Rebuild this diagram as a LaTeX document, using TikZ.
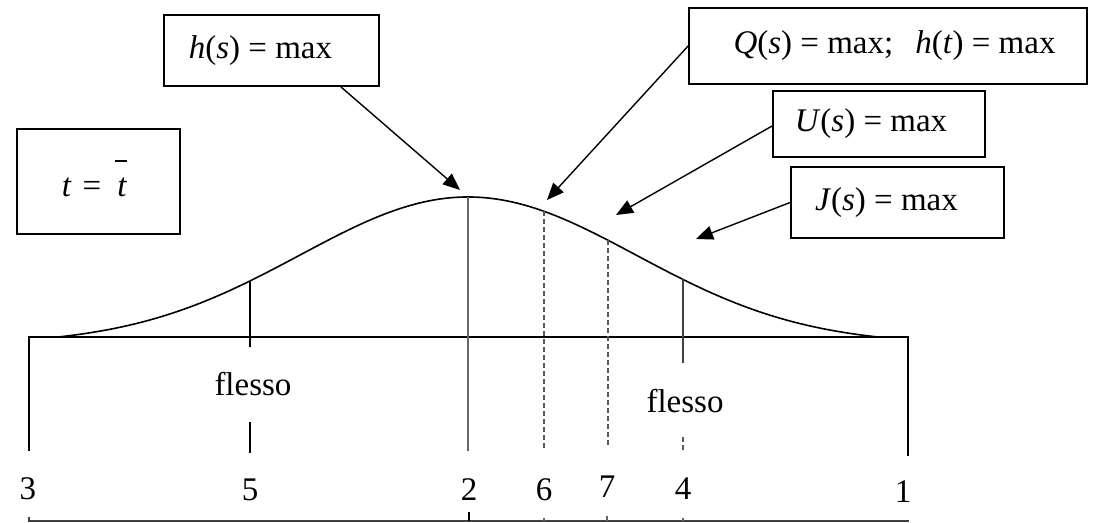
\documentclass[tikz,border=0pt]{standalone}
\usepackage{fontspec}
\setmainfont{Liberation Serif}
\usetikzlibrary{arrows.meta}
\newcommand{\tbarred}{\textit{t}\llap{\raisebox{17.5pt}{\rule{6pt}{0.8pt}}\hspace{0.3pt}}}
\begin{document}
\begin{tikzpicture}[x=0.5pt,y=-0.5pt,
  every node/.style={font=\fontsize{16.5}{20}\selectfont},
  box/.style={draw,line width=0.9pt,inner sep=0pt},
  arr/.style={line width=0.7pt,-{Triangle[length=8.5pt,width=7pt]}},
  axisline/.style={line width=0.9pt},
  curveline/.style={line width=0.8pt},
  greyline/.style={line width=0.8pt,black!60},
  dashline/.style={line width=0.7pt,black!65,dash pattern=on 2.5pt off 1.5pt},
  tickline/.style={line width=0.8pt}]
\useasboundingbox (0,0) rectangle (1093,523);

% boxes
\node[box,minimum width=107.5pt,minimum height=35.5pt] (hbox) at (271.5,50.5) {\textit{h}(\textit{s}) = max\hspace*{11pt}};
\node[box,minimum width=81.5pt,minimum height=52.5pt] (tbox) at (98.5,181.5) {\raisebox{3pt}{\textit{t}\hspace{5.5pt}=\hspace{8pt}\tbarred}\hspace*{4pt}};
\node[box,minimum width=199pt,minimum height=38pt] (qbox) at (888,46) {\hspace*{6.5pt}\textit{Q}(\textit{s}) = max;\hspace{11pt}\textit{h}(\textit{t}) = max};
\node[box,minimum width=106pt,minimum height=33pt] (ubox) at (879,124) {\textit{U}(\textit{s}) = max\hspace*{8pt}};
\node[box,minimum width=106.5pt,minimum height=35.5pt] (jbox) at (897.5,202.5) {\textit{J}(\textit{s}) = max\hspace*{11pt}};

% axis frame
\coordinate (al) at (29,337);
\coordinate (ar) at (908,337);
\coordinate (bl) at (29,451);
\coordinate (br) at (908,456);
\draw[axisline] (bl) -- (al) -- (ar) -- (br);

% curve
\draw[curveline] plot[domain=58:880,samples=120,smooth]
  (\x,{337-140*(exp(-0.5*((\x-468)/168)^2)-0.051)/0.949});

% points on curve
\coordinate (c5) at (250,281);
\coordinate (c2) at (468,197);
\coordinate (c6) at (544,211.4);
\coordinate (c7) at (608,240.3);
\coordinate (c4) at (683,279.5);

% verticals
\draw[tickline] (c5) -- (250,347);
\draw[tickline] (250,422) -- (250,453);
\draw[greyline] (c2) -- (468,451);
\draw[dashline] (c6) -- (544,449);
\draw[dashline] (c7) -- (608,448);
\draw[greyline,black!75] (c4) -- (683,363);
\draw[dashline] (683,437) -- (683,452);

% labels
\node (f1) at (253,384) {flesso};
\node (f2) at (685,401) {flesso};
\node (n3) at (28,489) {3};
\node (n5) at (250,490) {5};
\node (n2) at (469,490) {2};
\node (n6) at (544,490) {6};
\node (n7) at (607,487) {7};
\node (n4) at (683,489) {4};
\node (n1) at (903,492) {1};

% bottom line
\coordinate (dl) at (29,521);
\coordinate (dr) at (909,521);
\draw[line width=0.7pt,black!75] (29,517) -- (dl) -- (dr);
\draw[line width=0.7pt] (469,512) -- (469,521);
\draw[line width=0.6pt,black!60] (544,518) -- (544,521);
\draw[line width=0.6pt,black!60] (607,516) -- (607,521);
\draw[line width=0.6pt,black!60] (683,518) -- (683,521);

% arrows
\coordinate (ha) at (460,190);
\coordinate (qa) at (547,200);
\coordinate (ua) at (616,215);
\coordinate (ja) at (696,239);
\draw[arr] ([xshift=-19.5pt]hbox.south east) -- (ha);
\draw[arr] (qbox.west) -- (qa);
\draw[arr] ([yshift=-1pt]ubox.west) -- (ua);
\draw[arr] (jbox.west) -- (ja);
\end{tikzpicture}
\end{document}
